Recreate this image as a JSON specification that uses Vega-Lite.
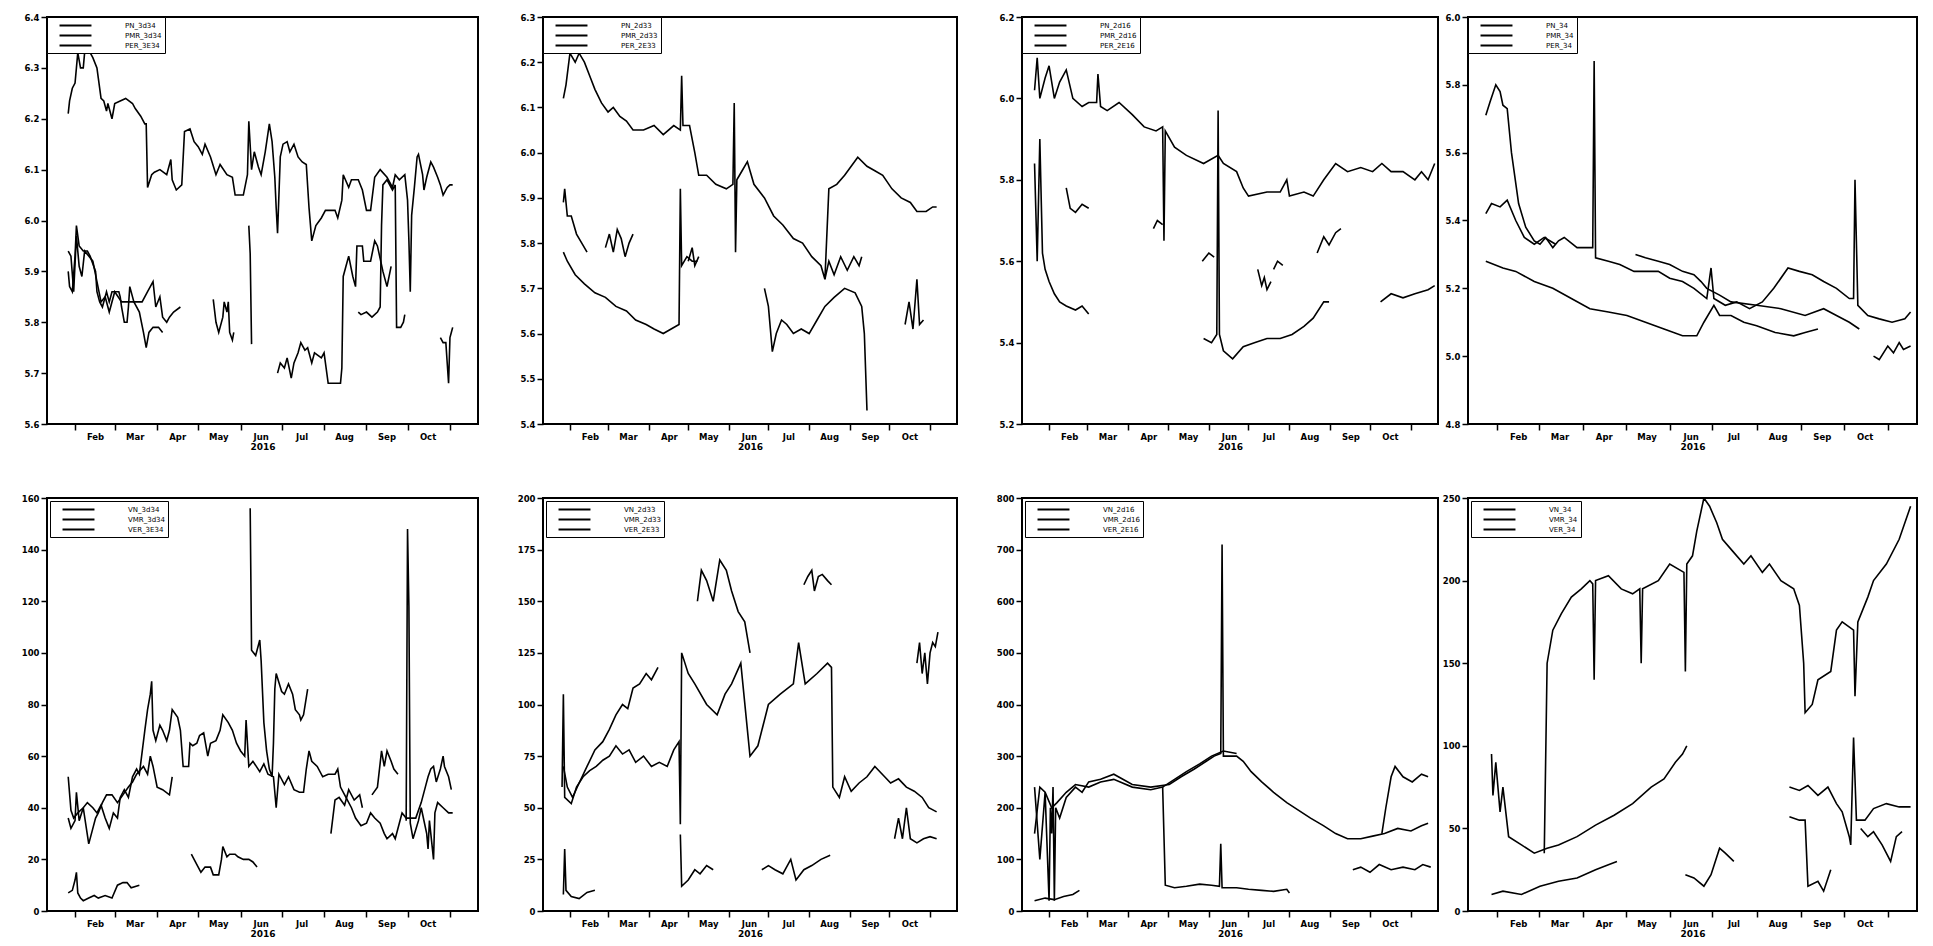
{
"$schema": "https://vega.github.io/schema/vega-lite/v6.json",
"padding": {"left": 20, "top": 12, "right": 5, "bottom": 5},
"config": {
 "font": "DejaVu Sans",
 "view": {"stroke": "black", "strokeWidth": 2},
 "axis": {"domain": false, "grid": false, "tickColor": "black", "tickWidth": 1.5, "tickSize": 6, "labelColor": "black", "labelFont": "DejaVu Sans", "labelFontSize": 8.5, "labelFontWeight": "bold", "labelPadding": 2, "labelOverlap": false, "labelFlush": false, "labelBound": false, "titleColor": "black", "titleFont": "DejaVu Sans", "titleFontSize": 9, "titleFontWeight": "bold", "titlePadding": 2},
 "legend": {"orient": "top-left", "offset": 0, "padding": 3, "strokeColor": "black", "fillColor": "white", "symbolType": "M-3.55,0H3.55", "symbolSize": 81, "symbolStrokeWidth": 2, "symbolStrokeColor": "black", "symbolFillColor": "transparent", "symbolOffset": 20, "labelOffset": 44, "labelFont": "DejaVu Sans", "labelFontSize": 7, "labelColor": "black", "rowPadding": 0}
},
"datasets": {
"p1": [
{"s":"a","g":1,"d":"2016-01-27","v":6.21},{"s":"a","g":1,"d":"2016-01-28","v":6.235},{"s":"a","g":1,"d":"2016-01-30","v":6.26},{"s":"a","g":1,"d":"2016-02-01","v":6.27},{"s":"a","g":1,"d":"2016-02-02","v":6.30},{"s":"a","g":1,"d":"2016-02-03","v":6.33},{"s":"a","g":1,"d":"2016-02-05","v":6.30},{"s":"a","g":1,"d":"2016-02-07","v":6.30},{"s":"a","g":1,"d":"2016-02-08","v":6.33},{"s":"a","g":1,"d":"2016-02-12","v":6.33},{"s":"a","g":1,"d":"2016-02-14","v":6.32},{"s":"a","g":1,"d":"2016-02-17","v":6.30},{"s":"a","g":1,"d":"2016-02-18","v":6.28},{"s":"a","g":1,"d":"2016-02-20","v":6.24},{"s":"a","g":1,"d":"2016-02-22","v":6.235},{"s":"a","g":1,"d":"2016-02-24","v":6.215},{"s":"a","g":1,"d":"2016-02-25","v":6.23},{"s":"a","g":1,"d":"2016-02-28","v":6.20},{"s":"a","g":1,"d":"2016-03-01","v":6.23},{"s":"a","g":1,"d":"2016-03-05","v":6.235},{"s":"a","g":1,"d":"2016-03-09","v":6.24},{"s":"a","g":1,"d":"2016-03-14","v":6.23},{"s":"a","g":1,"d":"2016-03-16","v":6.22},{"s":"a","g":1,"d":"2016-03-20","v":6.205},{"s":"a","g":1,"d":"2016-03-23","v":6.19},{"s":"a","g":1,"d":"2016-03-24","v":6.19},{"s":"a","g":1,"d":"2016-03-25","v":6.065},{"s":"a","g":1,"d":"2016-03-28","v":6.09},{"s":"a","g":1,"d":"2016-03-30","v":6.095},{"s":"a","g":1,"d":"2016-04-03","v":6.10},{"s":"a","g":1,"d":"2016-04-08","v":6.09},{"s":"a","g":1,"d":"2016-04-11","v":6.12},{"s":"a","g":1,"d":"2016-04-12","v":6.08},{"s":"a","g":1,"d":"2016-04-15","v":6.06},{"s":"a","g":1,"d":"2016-04-19","v":6.07},{"s":"a","g":1,"d":"2016-04-21","v":6.175},{"s":"a","g":1,"d":"2016-04-25","v":6.18},{"s":"a","g":1,"d":"2016-04-28","v":6.155},{"s":"a","g":1,"d":"2016-05-01","v":6.145},{"s":"a","g":1,"d":"2016-05-04","v":6.13},{"s":"a","g":1,"d":"2016-05-06","v":6.15},{"s":"a","g":1,"d":"2016-05-10","v":6.125},{"s":"a","g":1,"d":"2016-05-14","v":6.09},{"s":"a","g":1,"d":"2016-05-17","v":6.11},{"s":"a","g":1,"d":"2016-05-22","v":6.09},{"s":"a","g":1,"d":"2016-05-26","v":6.085},{"s":"a","g":1,"d":"2016-05-28","v":6.05},{"s":"a","g":1,"d":"2016-06-03","v":6.05},{"s":"a","g":1,"d":"2016-06-06","v":6.09},{"s":"a","g":1,"d":"2016-06-07","v":6.195},{"s":"a","g":1,"d":"2016-06-09","v":6.10},{"s":"a","g":1,"d":"2016-06-11","v":6.135},{"s":"a","g":1,"d":"2016-06-14","v":6.105},{"s":"a","g":1,"d":"2016-06-16","v":6.09},{"s":"a","g":1,"d":"2016-06-19","v":6.135},{"s":"a","g":1,"d":"2016-06-22","v":6.19},{"s":"a","g":1,"d":"2016-06-24","v":6.155},{"s":"a","g":1,"d":"2016-06-26","v":6.085},{"s":"a","g":1,"d":"2016-06-27","v":6.025},{"s":"a","g":1,"d":"2016-06-28","v":5.975},{"s":"a","g":1,"d":"2016-06-30","v":6.125},{"s":"a","g":1,"d":"2016-07-02","v":6.15},{"s":"a","g":1,"d":"2016-07-05","v":6.155},{"s":"a","g":1,"d":"2016-07-07","v":6.135},{"s":"a","g":1,"d":"2016-07-10","v":6.15},{"s":"a","g":1,"d":"2016-07-13","v":6.125},{"s":"a","g":1,"d":"2016-07-16","v":6.115},{"s":"a","g":1,"d":"2016-07-19","v":6.11},{"s":"a","g":1,"d":"2016-07-21","v":6.025},{"s":"a","g":1,"d":"2016-07-23","v":5.96},{"s":"a","g":1,"d":"2016-07-26","v":5.99},{"s":"a","g":1,"d":"2016-07-30","v":6.005},{"s":"a","g":1,"d":"2016-08-02","v":6.02},{"s":"a","g":1,"d":"2016-08-09","v":6.02},{"s":"a","g":1,"d":"2016-08-11","v":6.005},{"s":"a","g":1,"d":"2016-08-14","v":6.04},{"s":"a","g":1,"d":"2016-08-15","v":6.09},{"s":"a","g":1,"d":"2016-08-19","v":6.065},{"s":"a","g":1,"d":"2016-08-21","v":6.08},{"s":"a","g":1,"d":"2016-08-26","v":6.08},{"s":"a","g":1,"d":"2016-08-29","v":6.06},{"s":"a","g":1,"d":"2016-09-01","v":6.02},{"s":"a","g":1,"d":"2016-09-04","v":6.02},{"s":"a","g":1,"d":"2016-09-07","v":6.085},{"s":"a","g":1,"d":"2016-09-11","v":6.10},{"s":"a","g":1,"d":"2016-09-16","v":6.085},{"s":"a","g":1,"d":"2016-09-20","v":6.065},{"s":"a","g":1,"d":"2016-09-22","v":6.09},{"s":"a","g":1,"d":"2016-09-25","v":6.08},{"s":"a","g":1,"d":"2016-09-29","v":6.09},{"s":"a","g":1,"d":"2016-10-01","v":6.04},{"s":"a","g":1,"d":"2016-10-02","v":5.96},{"s":"a","g":1,"d":"2016-10-03","v":5.86},{"s":"a","g":1,"d":"2016-10-04","v":6.01},{"s":"a","g":1,"d":"2016-10-06","v":6.065},{"s":"a","g":1,"d":"2016-10-08","v":6.125},{"s":"a","g":1,"d":"2016-10-09","v":6.13},{"s":"a","g":1,"d":"2016-10-12","v":6.09},{"s":"a","g":1,"d":"2016-10-13","v":6.06},{"s":"a","g":1,"d":"2016-10-15","v":6.085},{"s":"a","g":1,"d":"2016-10-18","v":6.115},{"s":"a","g":1,"d":"2016-10-20","v":6.105},{"s":"a","g":1,"d":"2016-10-23","v":6.085},{"s":"a","g":1,"d":"2016-10-25","v":6.07},{"s":"a","g":1,"d":"2016-10-27","v":6.05},{"s":"a","g":1,"d":"2016-10-30","v":6.065},{"s":"a","g":1,"d":"2016-11-01","v":6.07},{"s":"a","g":1,"d":"2016-11-03","v":6.07},
{"s":"b","g":1,"d":"2016-01-27","v":5.90},{"s":"b","g":1,"d":"2016-01-28","v":5.87},{"s":"b","g":1,"d":"2016-01-30","v":5.86},{"s":"b","g":1,"d":"2016-02-01","v":5.93},{"s":"b","g":1,"d":"2016-02-02","v":5.99},{"s":"b","g":1,"d":"2016-02-04","v":5.95},{"s":"b","g":1,"d":"2016-02-07","v":5.94},{"s":"b","g":1,"d":"2016-02-10","v":5.94},{"s":"b","g":1,"d":"2016-02-12","v":5.93},{"s":"b","g":1,"d":"2016-02-16","v":5.90},{"s":"b","g":1,"d":"2016-02-17","v":5.86},{"s":"b","g":1,"d":"2016-02-19","v":5.84},{"s":"b","g":1,"d":"2016-02-21","v":5.83},{"s":"b","g":1,"d":"2016-02-24","v":5.86},{"s":"b","g":1,"d":"2016-02-26","v":5.84},{"s":"b","g":1,"d":"2016-02-28","v":5.86},{"s":"b","g":1,"d":"2016-03-04","v":5.86},{"s":"b","g":1,"d":"2016-03-05","v":5.85},{"s":"b","g":1,"d":"2016-03-06","v":5.83},{"s":"b","g":1,"d":"2016-03-08","v":5.80},{"s":"b","g":1,"d":"2016-03-10","v":5.80},{"s":"b","g":1,"d":"2016-03-11","v":5.83},{"s":"b","g":1,"d":"2016-03-12","v":5.87},{"s":"b","g":1,"d":"2016-03-15","v":5.84},{"s":"b","g":1,"d":"2016-03-21","v":5.84},{"s":"b","g":1,"d":"2016-03-25","v":5.86},{"s":"b","g":1,"d":"2016-03-29","v":5.88},{"s":"b","g":1,"d":"2016-03-31","v":5.83},{"s":"b","g":1,"d":"2016-04-03","v":5.85},{"s":"b","g":1,"d":"2016-04-05","v":5.81},{"s":"b","g":1,"d":"2016-04-08","v":5.80},{"s":"b","g":1,"d":"2016-04-10","v":5.81},{"s":"b","g":1,"d":"2016-04-13","v":5.82},{"s":"b","g":1,"d":"2016-04-18","v":5.83},
{"s":"b","g":2,"d":"2016-05-12","v":5.845},{"s":"b","g":2,"d":"2016-05-14","v":5.80},{"s":"b","g":2,"d":"2016-05-16","v":5.78},{"s":"b","g":2,"d":"2016-05-19","v":5.81},{"s":"b","g":2,"d":"2016-05-20","v":5.84},{"s":"b","g":2,"d":"2016-05-22","v":5.82},{"s":"b","g":2,"d":"2016-05-23","v":5.84},{"s":"b","g":2,"d":"2016-05-24","v":5.78},{"s":"b","g":2,"d":"2016-05-26","v":5.765},{"s":"b","g":2,"d":"2016-05-27","v":5.78},
{"s":"b","g":3,"d":"2016-06-28","v":5.70},{"s":"b","g":3,"d":"2016-06-30","v":5.72},{"s":"b","g":3,"d":"2016-07-03","v":5.71},{"s":"b","g":3,"d":"2016-07-05","v":5.73},{"s":"b","g":3,"d":"2016-07-08","v":5.69},{"s":"b","g":3,"d":"2016-07-10","v":5.72},{"s":"b","g":3,"d":"2016-07-13","v":5.74},{"s":"b","g":3,"d":"2016-07-15","v":5.76},{"s":"b","g":3,"d":"2016-07-18","v":5.745},{"s":"b","g":3,"d":"2016-07-20","v":5.75},{"s":"b","g":3,"d":"2016-07-23","v":5.72},{"s":"b","g":3,"d":"2016-07-25","v":5.74},{"s":"b","g":3,"d":"2016-07-30","v":5.73},{"s":"b","g":3,"d":"2016-08-01","v":5.74},{"s":"b","g":3,"d":"2016-08-04","v":5.68},{"s":"b","g":3,"d":"2016-08-13","v":5.68},{"s":"b","g":3,"d":"2016-08-14","v":5.71},{"s":"b","g":3,"d":"2016-08-15","v":5.89},{"s":"b","g":3,"d":"2016-08-17","v":5.91},{"s":"b","g":3,"d":"2016-08-19","v":5.93},{"s":"b","g":3,"d":"2016-08-22","v":5.89},{"s":"b","g":3,"d":"2016-08-24","v":5.87},{"s":"b","g":3,"d":"2016-08-25","v":5.95},{"s":"b","g":3,"d":"2016-08-29","v":5.95},{"s":"b","g":3,"d":"2016-08-30","v":5.92},{"s":"b","g":3,"d":"2016-09-04","v":5.92},{"s":"b","g":3,"d":"2016-09-07","v":5.96},{"s":"b","g":3,"d":"2016-09-09","v":5.95},{"s":"b","g":3,"d":"2016-09-13","v":5.90},{"s":"b","g":3,"d":"2016-09-16","v":5.87},{"s":"b","g":3,"d":"2016-09-19","v":5.91},
{"s":"b","g":4,"d":"2016-10-25","v":5.77},{"s":"b","g":4,"d":"2016-10-27","v":5.76},{"s":"b","g":4,"d":"2016-10-29","v":5.76},{"s":"b","g":4,"d":"2016-10-30","v":5.72},{"s":"b","g":4,"d":"2016-10-31","v":5.68},{"s":"b","g":4,"d":"2016-11-01","v":5.77},{"s":"b","g":4,"d":"2016-11-02","v":5.78},{"s":"b","g":4,"d":"2016-11-03","v":5.79},
{"s":"c","g":1,"d":"2016-01-27","v":5.94},{"s":"c","g":1,"d":"2016-01-29","v":5.93},{"s":"c","g":1,"d":"2016-01-31","v":5.86},{"s":"c","g":1,"d":"2016-02-02","v":5.97},{"s":"c","g":1,"d":"2016-02-04","v":5.91},{"s":"c","g":1,"d":"2016-02-06","v":5.89},{"s":"c","g":1,"d":"2016-02-08","v":5.94},{"s":"c","g":1,"d":"2016-02-11","v":5.93},{"s":"c","g":1,"d":"2016-02-14","v":5.92},{"s":"c","g":1,"d":"2016-02-17","v":5.88},{"s":"c","g":1,"d":"2016-02-20","v":5.84},{"s":"c","g":1,"d":"2016-02-23","v":5.85},{"s":"c","g":1,"d":"2016-02-26","v":5.82},{"s":"c","g":1,"d":"2016-03-01","v":5.86},{"s":"c","g":1,"d":"2016-03-06","v":5.84},{"s":"c","g":1,"d":"2016-03-10","v":5.84},{"s":"c","g":1,"d":"2016-03-15","v":5.84},{"s":"c","g":1,"d":"2016-03-19","v":5.82},{"s":"c","g":1,"d":"2016-03-22","v":5.78},{"s":"c","g":1,"d":"2016-03-24","v":5.75},{"s":"c","g":1,"d":"2016-03-26","v":5.78},{"s":"c","g":1,"d":"2016-03-29","v":5.79},{"s":"c","g":1,"d":"2016-04-02","v":5.79},{"s":"c","g":1,"d":"2016-04-05","v":5.78},
{"s":"c","g":2,"d":"2016-06-07","v":5.99},{"s":"c","g":2,"d":"2016-06-08","v":5.935},{"s":"c","g":2,"d":"2016-06-09","v":5.757},
{"s":"c","g":3,"d":"2016-08-26","v":5.82},{"s":"c","g":3,"d":"2016-08-28","v":5.815},{"s":"c","g":3,"d":"2016-09-01","v":5.82},{"s":"c","g":3,"d":"2016-09-05","v":5.81},{"s":"c","g":3,"d":"2016-09-09","v":5.82},{"s":"c","g":3,"d":"2016-09-11","v":5.83},{"s":"c","g":3,"d":"2016-09-12","v":5.99},{"s":"c","g":3,"d":"2016-09-13","v":6.07},{"s":"c","g":3,"d":"2016-09-16","v":6.08},{"s":"c","g":3,"d":"2016-09-20","v":6.06},{"s":"c","g":3,"d":"2016-09-22","v":6.07},{"s":"c","g":3,"d":"2016-09-23","v":5.79},{"s":"c","g":3,"d":"2016-09-26","v":5.79},{"s":"c","g":3,"d":"2016-09-28","v":5.80},{"s":"c","g":3,"d":"2016-09-29","v":5.815}
],
"p2": [
{"s":"a","g":1,"d":"2016-01-27","v":6.12},{"s":"a","g":1,"d":"2016-01-29","v":6.15},{"s":"a","g":1,"d":"2016-02-01","v":6.22},{"s":"a","g":1,"d":"2016-02-05","v":6.20},{"s":"a","g":1,"d":"2016-02-08","v":6.22},{"s":"a","g":1,"d":"2016-02-12","v":6.20},{"s":"a","g":1,"d":"2016-02-16","v":6.17},{"s":"a","g":1,"d":"2016-02-20","v":6.14},{"s":"a","g":1,"d":"2016-02-25","v":6.11},{"s":"a","g":1,"d":"2016-03-01","v":6.09},{"s":"a","g":1,"d":"2016-03-05","v":6.10},{"s":"a","g":1,"d":"2016-03-10","v":6.08},{"s":"a","g":1,"d":"2016-03-15","v":6.07},{"s":"a","g":1,"d":"2016-03-20","v":6.05},{"s":"a","g":1,"d":"2016-03-28","v":6.05},{"s":"a","g":1,"d":"2016-04-05","v":6.06},{"s":"a","g":1,"d":"2016-04-12","v":6.04},{"s":"a","g":1,"d":"2016-04-20","v":6.06},{"s":"a","g":1,"d":"2016-04-25","v":6.05},{"s":"a","g":1,"d":"2016-04-26","v":6.17},{"s":"a","g":1,"d":"2016-04-27","v":6.06},{"s":"a","g":1,"d":"2016-05-02","v":6.06},{"s":"a","g":1,"d":"2016-05-06","v":6.00},{"s":"a","g":1,"d":"2016-05-09","v":5.95},{"s":"a","g":1,"d":"2016-05-15","v":5.95},{"s":"a","g":1,"d":"2016-05-22","v":5.93},{"s":"a","g":1,"d":"2016-05-30","v":5.92},{"s":"a","g":1,"d":"2016-06-04","v":5.93},{"s":"a","g":1,"d":"2016-06-05","v":6.11},{"s":"a","g":1,"d":"2016-06-06","v":5.78},{"s":"a","g":1,"d":"2016-06-07","v":5.94},{"s":"a","g":1,"d":"2016-06-11","v":5.96},{"s":"a","g":1,"d":"2016-06-15","v":5.98},{"s":"a","g":1,"d":"2016-06-20","v":5.93},{"s":"a","g":1,"d":"2016-06-28","v":5.90},{"s":"a","g":1,"d":"2016-07-05","v":5.86},{"s":"a","g":1,"d":"2016-07-12","v":5.84},{"s":"a","g":1,"d":"2016-07-20","v":5.81},{"s":"a","g":1,"d":"2016-07-27","v":5.80},{"s":"a","g":1,"d":"2016-08-03","v":5.77},{"s":"a","g":1,"d":"2016-08-10","v":5.75},{"s":"a","g":1,"d":"2016-08-13","v":5.72},{"s":"a","g":1,"d":"2016-08-16","v":5.92},{"s":"a","g":1,"d":"2016-08-22","v":5.93},{"s":"a","g":1,"d":"2016-08-28","v":5.95},{"s":"a","g":1,"d":"2016-09-02","v":5.97},{"s":"a","g":1,"d":"2016-09-07","v":5.99},{"s":"a","g":1,"d":"2016-09-14","v":5.97},{"s":"a","g":1,"d":"2016-09-20","v":5.96},{"s":"a","g":1,"d":"2016-09-26","v":5.95},{"s":"a","g":1,"d":"2016-10-03","v":5.92},{"s":"a","g":1,"d":"2016-10-10","v":5.90},{"s":"a","g":1,"d":"2016-10-17","v":5.89},{"s":"a","g":1,"d":"2016-10-22","v":5.87},{"s":"a","g":1,"d":"2016-10-29","v":5.87},{"s":"a","g":1,"d":"2016-11-03","v":5.88},{"s":"a","g":1,"d":"2016-11-06","v":5.88},
{"s":"b","g":1,"d":"2016-01-27","v":5.78},{"s":"b","g":1,"d":"2016-01-30","v":5.76},{"s":"b","g":1,"d":"2016-02-05","v":5.73},{"s":"b","g":1,"d":"2016-02-12","v":5.71},{"s":"b","g":1,"d":"2016-02-20","v":5.69},{"s":"b","g":1,"d":"2016-02-28","v":5.68},{"s":"b","g":1,"d":"2016-03-07","v":5.66},{"s":"b","g":1,"d":"2016-03-15","v":5.65},{"s":"b","g":1,"d":"2016-03-22","v":5.63},{"s":"b","g":1,"d":"2016-03-30","v":5.62},{"s":"b","g":1,"d":"2016-04-05","v":5.61},{"s":"b","g":1,"d":"2016-04-12","v":5.60},{"s":"b","g":1,"d":"2016-04-18","v":5.61},{"s":"b","g":1,"d":"2016-04-24","v":5.62},{"s":"b","g":1,"d":"2016-04-25","v":5.92},{"s":"b","g":1,"d":"2016-04-26","v":5.75},{"s":"b","g":1,"d":"2016-04-30","v":5.77},{"s":"b","g":1,"d":"2016-05-04","v":5.76},{"s":"b","g":1,"d":"2016-05-08","v":5.76},
{"s":"b","g":2,"d":"2016-06-28","v":5.70},{"s":"b","g":2,"d":"2016-07-01","v":5.66},{"s":"b","g":2,"d":"2016-07-04","v":5.56},{"s":"b","g":2,"d":"2016-07-07","v":5.60},{"s":"b","g":2,"d":"2016-07-11","v":5.63},{"s":"b","g":2,"d":"2016-07-15","v":5.62},{"s":"b","g":2,"d":"2016-07-20","v":5.60},{"s":"b","g":2,"d":"2016-07-26","v":5.61},{"s":"b","g":2,"d":"2016-08-01","v":5.60},{"s":"b","g":2,"d":"2016-08-07","v":5.63},{"s":"b","g":2,"d":"2016-08-13","v":5.66},{"s":"b","g":2,"d":"2016-08-20","v":5.68},{"s":"b","g":2,"d":"2016-08-28","v":5.70},{"s":"b","g":2,"d":"2016-09-05","v":5.69},{"s":"b","g":2,"d":"2016-09-10","v":5.66},{"s":"b","g":2,"d":"2016-09-12","v":5.60},{"s":"b","g":2,"d":"2016-09-14","v":5.43},
{"s":"c","g":1,"d":"2016-01-27","v":5.89},{"s":"c","g":1,"d":"2016-01-28","v":5.92},{"s":"c","g":1,"d":"2016-01-30","v":5.86},{"s":"c","g":1,"d":"2016-02-02","v":5.86},{"s":"c","g":1,"d":"2016-02-06","v":5.82},{"s":"c","g":1,"d":"2016-02-10","v":5.80},{"s":"c","g":1,"d":"2016-02-14","v":5.78},
{"s":"c","g":2,"d":"2016-02-28","v":5.79},{"s":"c","g":2,"d":"2016-03-02","v":5.82},{"s":"c","g":2,"d":"2016-03-05","v":5.78},{"s":"c","g":2,"d":"2016-03-08","v":5.83},{"s":"c","g":2,"d":"2016-03-11","v":5.81},{"s":"c","g":2,"d":"2016-03-14","v":5.77},{"s":"c","g":2,"d":"2016-03-17","v":5.80},{"s":"c","g":2,"d":"2016-03-20","v":5.82},
{"s":"c","g":3,"d":"2016-05-01","v":5.76},{"s":"c","g":3,"d":"2016-05-04","v":5.79},{"s":"c","g":3,"d":"2016-05-06","v":5.75},{"s":"c","g":3,"d":"2016-05-09","v":5.77},
{"s":"c","g":4,"d":"2016-08-13","v":5.72},{"s":"c","g":4,"d":"2016-08-16","v":5.76},{"s":"c","g":4,"d":"2016-08-20","v":5.73},{"s":"c","g":4,"d":"2016-08-25","v":5.77},{"s":"c","g":4,"d":"2016-08-30","v":5.74},{"s":"c","g":4,"d":"2016-09-04","v":5.77},{"s":"c","g":4,"d":"2016-09-08","v":5.75},{"s":"c","g":4,"d":"2016-09-10","v":5.77},
{"s":"c","g":5,"d":"2016-10-13","v":5.62},{"s":"c","g":5,"d":"2016-10-16","v":5.67},{"s":"c","g":5,"d":"2016-10-19","v":5.61},{"s":"c","g":5,"d":"2016-10-22","v":5.72},{"s":"c","g":5,"d":"2016-10-24","v":5.62},{"s":"c","g":5,"d":"2016-10-27","v":5.63}
],
"p3": [
{"s":"a","g":1,"d":"2016-01-21","v":6.02},{"s":"a","g":1,"d":"2016-01-23","v":6.10},{"s":"a","g":1,"d":"2016-01-25","v":6.00},{"s":"a","g":1,"d":"2016-01-29","v":6.05},{"s":"a","g":1,"d":"2016-02-01","v":6.08},{"s":"a","g":1,"d":"2016-02-05","v":6.00},{"s":"a","g":1,"d":"2016-02-09","v":6.04},{"s":"a","g":1,"d":"2016-02-14","v":6.07},{"s":"a","g":1,"d":"2016-02-19","v":6.00},{"s":"a","g":1,"d":"2016-02-26","v":5.98},{"s":"a","g":1,"d":"2016-03-02","v":5.99},{"s":"a","g":1,"d":"2016-03-08","v":5.99},{"s":"a","g":1,"d":"2016-03-09","v":6.06},{"s":"a","g":1,"d":"2016-03-11","v":5.98},{"s":"a","g":1,"d":"2016-03-16","v":5.97},{"s":"a","g":1,"d":"2016-03-25","v":5.99},{"s":"a","g":1,"d":"2016-04-04","v":5.96},{"s":"a","g":1,"d":"2016-04-13","v":5.93},{"s":"a","g":1,"d":"2016-04-22","v":5.92},{"s":"a","g":1,"d":"2016-04-27","v":5.93},{"s":"a","g":1,"d":"2016-04-28","v":5.65},{"s":"a","g":1,"d":"2016-04-29","v":5.92},{"s":"a","g":1,"d":"2016-05-06","v":5.88},{"s":"a","g":1,"d":"2016-05-15","v":5.86},{"s":"a","g":1,"d":"2016-05-28","v":5.84},{"s":"a","g":1,"d":"2016-06-08","v":5.86},{"s":"a","g":1,"d":"2016-06-12","v":5.84},{"s":"a","g":1,"d":"2016-06-22","v":5.82},{"s":"a","g":1,"d":"2016-06-27","v":5.78},{"s":"a","g":1,"d":"2016-07-01","v":5.76},{"s":"a","g":1,"d":"2016-07-15","v":5.77},{"s":"a","g":1,"d":"2016-07-25","v":5.77},{"s":"a","g":1,"d":"2016-07-30","v":5.80},{"s":"a","g":1,"d":"2016-08-01","v":5.76},{"s":"a","g":1,"d":"2016-08-12","v":5.77},{"s":"a","g":1,"d":"2016-08-19","v":5.76},{"s":"a","g":1,"d":"2016-08-27","v":5.80},{"s":"a","g":1,"d":"2016-09-05","v":5.84},{"s":"a","g":1,"d":"2016-09-14","v":5.82},{"s":"a","g":1,"d":"2016-09-24","v":5.83},{"s":"a","g":1,"d":"2016-10-03","v":5.82},{"s":"a","g":1,"d":"2016-10-10","v":5.84},{"s":"a","g":1,"d":"2016-10-17","v":5.82},{"s":"a","g":1,"d":"2016-10-26","v":5.82},{"s":"a","g":1,"d":"2016-11-04","v":5.80},{"s":"a","g":1,"d":"2016-11-09","v":5.82},{"s":"a","g":1,"d":"2016-11-14","v":5.80},{"s":"a","g":1,"d":"2016-11-19","v":5.84},
{"s":"b","g":1,"d":"2016-01-21","v":5.84},{"s":"b","g":1,"d":"2016-01-23","v":5.60},{"s":"b","g":1,"d":"2016-01-25","v":5.90},{"s":"b","g":1,"d":"2016-01-27","v":5.62},{"s":"b","g":1,"d":"2016-01-29","v":5.58},{"s":"b","g":1,"d":"2016-02-01","v":5.55},{"s":"b","g":1,"d":"2016-02-05","v":5.52},{"s":"b","g":1,"d":"2016-02-09","v":5.50},{"s":"b","g":1,"d":"2016-02-14","v":5.49},{"s":"b","g":1,"d":"2016-02-21","v":5.48},{"s":"b","g":1,"d":"2016-02-26","v":5.49},{"s":"b","g":1,"d":"2016-03-02","v":5.47},
{"s":"b","g":2,"d":"2016-05-28","v":5.41},{"s":"b","g":2,"d":"2016-06-03","v":5.40},{"s":"b","g":2,"d":"2016-06-07","v":5.42},{"s":"b","g":2,"d":"2016-06-08","v":5.97},{"s":"b","g":2,"d":"2016-06-09","v":5.42},{"s":"b","g":2,"d":"2016-06-12","v":5.38},{"s":"b","g":2,"d":"2016-06-19","v":5.36},{"s":"b","g":2,"d":"2016-06-27","v":5.39},{"s":"b","g":2,"d":"2016-07-06","v":5.40},{"s":"b","g":2,"d":"2016-07-15","v":5.41},{"s":"b","g":2,"d":"2016-07-25","v":5.41},{"s":"b","g":2,"d":"2016-08-03","v":5.42},{"s":"b","g":2,"d":"2016-08-12","v":5.44},{"s":"b","g":2,"d":"2016-08-19","v":5.46},{"s":"b","g":2,"d":"2016-08-27","v":5.50},{"s":"b","g":2,"d":"2016-08-31","v":5.50},
{"s":"b","g":3,"d":"2016-10-09","v":5.50},{"s":"b","g":3,"d":"2016-10-17","v":5.52},{"s":"b","g":3,"d":"2016-10-26","v":5.51},{"s":"b","g":3,"d":"2016-11-04","v":5.52},{"s":"b","g":3,"d":"2016-11-14","v":5.53},{"s":"b","g":3,"d":"2016-11-19","v":5.54},
{"s":"c","g":1,"d":"2016-02-14","v":5.78},{"s":"c","g":1,"d":"2016-02-17","v":5.73},{"s":"c","g":1,"d":"2016-02-21","v":5.72},{"s":"c","g":1,"d":"2016-02-26","v":5.74},{"s":"c","g":1,"d":"2016-03-02","v":5.73},
{"s":"c","g":2,"d":"2016-04-20","v":5.68},{"s":"c","g":2,"d":"2016-04-23","v":5.70},{"s":"c","g":2,"d":"2016-04-27","v":5.69},
{"s":"c","g":3,"d":"2016-05-27","v":5.60},{"s":"c","g":3,"d":"2016-06-01","v":5.62},{"s":"c","g":3,"d":"2016-06-05","v":5.61},
{"s":"c","g":4,"d":"2016-07-08","v":5.58},{"s":"c","g":4,"d":"2016-07-11","v":5.54},{"s":"c","g":4,"d":"2016-07-13","v":5.56},{"s":"c","g":4,"d":"2016-07-15","v":5.53},{"s":"c","g":4,"d":"2016-07-18","v":5.55},
{"s":"c","g":5,"d":"2016-07-20","v":5.58},{"s":"c","g":5,"d":"2016-07-23","v":5.60},{"s":"c","g":5,"d":"2016-07-27","v":5.59},
{"s":"c","g":6,"d":"2016-08-22","v":5.62},{"s":"c","g":6,"d":"2016-08-27","v":5.66},{"s":"c","g":6,"d":"2016-08-31","v":5.64},{"s":"c","g":6,"d":"2016-09-05","v":5.67},{"s":"c","g":6,"d":"2016-09-09","v":5.68}
],
"p4": [
{"s":"a","g":1,"d":"2016-01-24","v":5.71},{"s":"a","g":1,"d":"2016-01-27","v":5.75},{"s":"a","g":1,"d":"2016-01-31","v":5.80},{"s":"a","g":1,"d":"2016-02-03","v":5.78},{"s":"a","g":1,"d":"2016-02-05","v":5.74},{"s":"a","g":1,"d":"2016-02-08","v":5.73},{"s":"a","g":1,"d":"2016-02-11","v":5.60},{"s":"a","g":1,"d":"2016-02-16","v":5.45},{"s":"a","g":1,"d":"2016-02-21","v":5.38},{"s":"a","g":1,"d":"2016-02-27","v":5.34},{"s":"a","g":1,"d":"2016-03-02","v":5.33},{"s":"a","g":1,"d":"2016-03-06","v":5.35},{"s":"a","g":1,"d":"2016-03-11","v":5.32},{"s":"a","g":1,"d":"2016-03-15","v":5.34},{"s":"a","g":1,"d":"2016-03-19","v":5.35},{"s":"a","g":1,"d":"2016-03-28","v":5.32},{"s":"a","g":1,"d":"2016-04-08","v":5.32},{"s":"a","g":1,"d":"2016-04-09","v":5.87},{"s":"a","g":1,"d":"2016-04-10","v":5.29},{"s":"a","g":1,"d":"2016-04-19","v":5.28},{"s":"a","g":1,"d":"2016-04-27","v":5.27},{"s":"a","g":1,"d":"2016-05-07","v":5.25},{"s":"a","g":1,"d":"2016-05-24","v":5.25},{"s":"a","g":1,"d":"2016-06-01","v":5.23},{"s":"a","g":1,"d":"2016-06-10","v":5.22},{"s":"a","g":1,"d":"2016-06-18","v":5.20},{"s":"a","g":1,"d":"2016-06-27","v":5.17},{"s":"a","g":1,"d":"2016-06-30","v":5.26},{"s":"a","g":1,"d":"2016-07-02","v":5.17},{"s":"a","g":1,"d":"2016-07-10","v":5.15},{"s":"a","g":1,"d":"2016-07-18","v":5.16},{"s":"a","g":1,"d":"2016-07-27","v":5.14},{"s":"a","g":1,"d":"2016-08-05","v":5.16},{"s":"a","g":1,"d":"2016-08-13","v":5.20},{"s":"a","g":1,"d":"2016-08-23","v":5.26},{"s":"a","g":1,"d":"2016-08-31","v":5.25},{"s":"a","g":1,"d":"2016-09-09","v":5.24},{"s":"a","g":1,"d":"2016-09-17","v":5.22},{"s":"a","g":1,"d":"2016-09-26","v":5.20},{"s":"a","g":1,"d":"2016-10-05","v":5.17},{"s":"a","g":1,"d":"2016-10-08","v":5.17},{"s":"a","g":1,"d":"2016-10-09","v":5.52},{"s":"a","g":1,"d":"2016-10-11","v":5.15},{"s":"a","g":1,"d":"2016-10-18","v":5.12},{"s":"a","g":1,"d":"2016-10-26","v":5.11},{"s":"a","g":1,"d":"2016-11-04","v":5.10},{"s":"a","g":1,"d":"2016-11-13","v":5.11},{"s":"a","g":1,"d":"2016-11-17","v":5.13},
{"s":"b","g":1,"d":"2016-01-24","v":5.42},{"s":"b","g":1,"d":"2016-01-28","v":5.45},{"s":"b","g":1,"d":"2016-02-03","v":5.44},{"s":"b","g":1,"d":"2016-02-08","v":5.46},{"s":"b","g":1,"d":"2016-02-14","v":5.40},{"s":"b","g":1,"d":"2016-02-20","v":5.35},{"s":"b","g":1,"d":"2016-02-27","v":5.33},{"s":"b","g":1,"d":"2016-03-05","v":5.35},{"s":"b","g":1,"d":"2016-03-13","v":5.33},
{"s":"b","g":2,"d":"2016-05-08","v":5.30},{"s":"b","g":2,"d":"2016-05-15","v":5.29},{"s":"b","g":2,"d":"2016-05-24","v":5.28},{"s":"b","g":2,"d":"2016-06-01","v":5.27},{"s":"b","g":2,"d":"2016-06-10","v":5.25},{"s":"b","g":2,"d":"2016-06-18","v":5.24},{"s":"b","g":2,"d":"2016-06-23","v":5.22},{"s":"b","g":2,"d":"2016-06-27","v":5.20},{"s":"b","g":2,"d":"2016-07-06","v":5.18},{"s":"b","g":2,"d":"2016-07-14","v":5.16},{"s":"b","g":2,"d":"2016-08-01","v":5.15},{"s":"b","g":2,"d":"2016-08-18","v":5.14},{"s":"b","g":2,"d":"2016-09-04","v":5.12},{"s":"b","g":2,"d":"2016-09-17","v":5.14},{"s":"b","g":2,"d":"2016-09-26","v":5.12},{"s":"b","g":2,"d":"2016-10-05","v":5.10},{"s":"b","g":2,"d":"2016-10-12","v":5.08},
{"s":"c","g":1,"d":"2016-01-24","v":5.28},{"s":"c","g":1,"d":"2016-02-05","v":5.26},{"s":"c","g":1,"d":"2016-02-14","v":5.25},{"s":"c","g":1,"d":"2016-02-27","v":5.22},{"s":"c","g":1,"d":"2016-03-11","v":5.20},{"s":"c","g":1,"d":"2016-03-24","v":5.17},{"s":"c","g":1,"d":"2016-04-06","v":5.14},{"s":"c","g":1,"d":"2016-04-19","v":5.13},{"s":"c","g":1,"d":"2016-05-02","v":5.12},{"s":"c","g":1,"d":"2016-05-15","v":5.10},{"s":"c","g":1,"d":"2016-05-28","v":5.08},{"s":"c","g":1,"d":"2016-06-10","v":5.06},{"s":"c","g":1,"d":"2016-06-20","v":5.06},{"s":"c","g":1,"d":"2016-06-25","v":5.10},{"s":"c","g":1,"d":"2016-07-02","v":5.15},{"s":"c","g":1,"d":"2016-07-06","v":5.12},{"s":"c","g":1,"d":"2016-07-14","v":5.12},{"s":"c","g":1,"d":"2016-07-23","v":5.10},{"s":"c","g":1,"d":"2016-08-01","v":5.09},{"s":"c","g":1,"d":"2016-08-14","v":5.07},{"s":"c","g":1,"d":"2016-08-27","v":5.06},{"s":"c","g":1,"d":"2016-09-04","v":5.07},{"s":"c","g":1,"d":"2016-09-13","v":5.08},
{"s":"c","g":2,"d":"2016-10-22","v":5.00},{"s":"c","g":2,"d":"2016-10-26","v":4.99},{"s":"c","g":2,"d":"2016-11-01","v":5.03},{"s":"c","g":2,"d":"2016-11-05","v":5.01},{"s":"c","g":2,"d":"2016-11-09","v":5.04},{"s":"c","g":2,"d":"2016-11-12","v":5.02},{"s":"c","g":2,"d":"2016-11-17","v":5.03}
],
"p5": [
{"s":"a","g":1,"d":"2016-01-27","v":52},{"s":"a","g":1,"d":"2016-01-29","v":39},{"s":"a","g":1,"d":"2016-01-31","v":36},{"s":"a","g":1,"d":"2016-02-03","v":38},{"s":"a","g":1,"d":"2016-02-07","v":40},{"s":"a","g":1,"d":"2016-02-10","v":42},{"s":"a","g":1,"d":"2016-02-14","v":40},{"s":"a","g":1,"d":"2016-02-17","v":38},{"s":"a","g":1,"d":"2016-02-20","v":41},{"s":"a","g":1,"d":"2016-02-23","v":36},{"s":"a","g":1,"d":"2016-02-26","v":32},{"s":"a","g":1,"d":"2016-02-29","v":38},{"s":"a","g":1,"d":"2016-03-03","v":36},{"s":"a","g":1,"d":"2016-03-05","v":44},{"s":"a","g":1,"d":"2016-03-08","v":47},{"s":"a","g":1,"d":"2016-03-11","v":44},{"s":"a","g":1,"d":"2016-03-14","v":52},{"s":"a","g":1,"d":"2016-03-17","v":55},{"s":"a","g":1,"d":"2016-03-19","v":53},{"s":"a","g":1,"d":"2016-03-23","v":70},{"s":"a","g":1,"d":"2016-03-25","v":78},{"s":"a","g":1,"d":"2016-03-27","v":84},{"s":"a","g":1,"d":"2016-03-28","v":89},{"s":"a","g":1,"d":"2016-03-29","v":70},{"s":"a","g":1,"d":"2016-03-31","v":66},{"s":"a","g":1,"d":"2016-04-03","v":72},{"s":"a","g":1,"d":"2016-04-05","v":70},{"s":"a","g":1,"d":"2016-04-08","v":66},{"s":"a","g":1,"d":"2016-04-10","v":70},{"s":"a","g":1,"d":"2016-04-12","v":78},{"s":"a","g":1,"d":"2016-04-16","v":75},{"s":"a","g":1,"d":"2016-04-18","v":70},{"s":"a","g":1,"d":"2016-04-20","v":56},{"s":"a","g":1,"d":"2016-04-24","v":56},{"s":"a","g":1,"d":"2016-04-25","v":65},{"s":"a","g":1,"d":"2016-04-27","v":64},{"s":"a","g":1,"d":"2016-04-30","v":65},{"s":"a","g":1,"d":"2016-05-02","v":68},{"s":"a","g":1,"d":"2016-05-05","v":69},{"s":"a","g":1,"d":"2016-05-08","v":60},{"s":"a","g":1,"d":"2016-05-10","v":65},{"s":"a","g":1,"d":"2016-05-14","v":66},{"s":"a","g":1,"d":"2016-05-17","v":70},{"s":"a","g":1,"d":"2016-05-19","v":76},{"s":"a","g":1,"d":"2016-05-23","v":73},{"s":"a","g":1,"d":"2016-05-26","v":70},{"s":"a","g":1,"d":"2016-05-29","v":65},{"s":"a","g":1,"d":"2016-06-01","v":62},{"s":"a","g":1,"d":"2016-06-04","v":60},{"s":"a","g":1,"d":"2016-06-05","v":74},{"s":"a","g":1,"d":"2016-06-07","v":56},{"s":"a","g":1,"d":"2016-06-10","v":58},{"s":"a","g":1,"d":"2016-06-15","v":54},{"s":"a","g":1,"d":"2016-06-18","v":57},{"s":"a","g":1,"d":"2016-06-21","v":53},{"s":"a","g":1,"d":"2016-06-25","v":52},{"s":"a","g":1,"d":"2016-06-27","v":40},{"s":"a","g":1,"d":"2016-06-29","v":53},{"s":"a","g":1,"d":"2016-07-03","v":49},{"s":"a","g":1,"d":"2016-07-06","v":52},{"s":"a","g":1,"d":"2016-07-10","v":47},{"s":"a","g":1,"d":"2016-07-14","v":46},{"s":"a","g":1,"d":"2016-07-17","v":46},{"s":"a","g":1,"d":"2016-07-19","v":55},{"s":"a","g":1,"d":"2016-07-21","v":62},{"s":"a","g":1,"d":"2016-07-23","v":58},{"s":"a","g":1,"d":"2016-07-27","v":56},{"s":"a","g":1,"d":"2016-07-31","v":52},{"s":"a","g":1,"d":"2016-08-04","v":53},{"s":"a","g":1,"d":"2016-08-09","v":53},{"s":"a","g":1,"d":"2016-08-11","v":55},{"s":"a","g":1,"d":"2016-08-13","v":48},{"s":"a","g":1,"d":"2016-08-17","v":44},{"s":"a","g":1,"d":"2016-08-21","v":40},{"s":"a","g":1,"d":"2016-08-24","v":36},{"s":"a","g":1,"d":"2016-08-28","v":33},{"s":"a","g":1,"d":"2016-09-01","v":34},{"s":"a","g":1,"d":"2016-09-04","v":38},{"s":"a","g":1,"d":"2016-09-07","v":36},{"s":"a","g":1,"d":"2016-09-11","v":34},{"s":"a","g":1,"d":"2016-09-14","v":30},{"s":"a","g":1,"d":"2016-09-16","v":28},{"s":"a","g":1,"d":"2016-09-20","v":30},{"s":"a","g":1,"d":"2016-09-22","v":28},{"s":"a","g":1,"d":"2016-09-25","v":34},{"s":"a","g":1,"d":"2016-09-27","v":38},{"s":"a","g":1,"d":"2016-09-30","v":36},{"s":"a","g":1,"d":"2016-10-04","v":36},{"s":"a","g":1,"d":"2016-10-07","v":36},{"s":"a","g":1,"d":"2016-10-11","v":42},{"s":"a","g":1,"d":"2016-10-14","v":48},{"s":"a","g":1,"d":"2016-10-16","v":52},{"s":"a","g":1,"d":"2016-10-18","v":55},{"s":"a","g":1,"d":"2016-10-20","v":56},{"s":"a","g":1,"d":"2016-10-22","v":50},{"s":"a","g":1,"d":"2016-10-25","v":55},{"s":"a","g":1,"d":"2016-10-27","v":60},{"s":"a","g":1,"d":"2016-10-28","v":56},{"s":"a","g":1,"d":"2016-10-31","v":52},{"s":"a","g":1,"d":"2016-11-02","v":47},
{"s":"b","g":1,"d":"2016-01-27","v":36},{"s":"b","g":1,"d":"2016-01-29","v":32},{"s":"b","g":1,"d":"2016-02-01","v":35},{"s":"b","g":1,"d":"2016-02-02","v":46},{"s":"b","g":1,"d":"2016-02-04","v":35},{"s":"b","g":1,"d":"2016-02-07","v":40},{"s":"b","g":1,"d":"2016-02-09","v":33},{"s":"b","g":1,"d":"2016-02-11","v":26},{"s":"b","g":1,"d":"2016-02-14","v":32},{"s":"b","g":1,"d":"2016-02-16","v":36},{"s":"b","g":1,"d":"2016-02-18","v":38},{"s":"b","g":1,"d":"2016-02-21","v":42},{"s":"b","g":1,"d":"2016-02-24","v":45},{"s":"b","g":1,"d":"2016-02-28","v":45},{"s":"b","g":1,"d":"2016-03-03","v":42},{"s":"b","g":1,"d":"2016-03-07","v":45},{"s":"b","g":1,"d":"2016-03-11","v":48},{"s":"b","g":1,"d":"2016-03-14","v":50},{"s":"b","g":1,"d":"2016-03-17","v":53},{"s":"b","g":1,"d":"2016-03-22","v":56},{"s":"b","g":1,"d":"2016-03-25","v":53},{"s":"b","g":1,"d":"2016-03-27","v":60},{"s":"b","g":1,"d":"2016-03-29","v":56},{"s":"b","g":1,"d":"2016-04-01","v":48},{"s":"b","g":1,"d":"2016-04-05","v":47},{"s":"b","g":1,"d":"2016-04-10","v":45},{"s":"b","g":1,"d":"2016-04-12","v":52},
{"s":"b","g":2,"d":"2016-06-08","v":156},{"s":"b","g":2,"d":"2016-06-09","v":101},{"s":"b","g":2,"d":"2016-06-12","v":99},{"s":"b","g":2,"d":"2016-06-15","v":105},{"s":"b","g":2,"d":"2016-06-16","v":97},{"s":"b","g":2,"d":"2016-06-18","v":73},{"s":"b","g":2,"d":"2016-06-20","v":62},{"s":"b","g":2,"d":"2016-06-22","v":55},{"s":"b","g":2,"d":"2016-06-24","v":52},{"s":"b","g":2,"d":"2016-06-25","v":65},{"s":"b","g":2,"d":"2016-06-26","v":86},{"s":"b","g":2,"d":"2016-06-27","v":92},{"s":"b","g":2,"d":"2016-07-01","v":85},{"s":"b","g":2,"d":"2016-07-03","v":84},{"s":"b","g":2,"d":"2016-07-06","v":88},{"s":"b","g":2,"d":"2016-07-09","v":84},{"s":"b","g":2,"d":"2016-07-11","v":78},{"s":"b","g":2,"d":"2016-07-14","v":76},{"s":"b","g":2,"d":"2016-07-15","v":74},{"s":"b","g":2,"d":"2016-07-17","v":76},{"s":"b","g":2,"d":"2016-07-20","v":86},
{"s":"b","g":3,"d":"2016-08-06","v":30},{"s":"b","g":3,"d":"2016-08-09","v":43},{"s":"b","g":3,"d":"2016-08-12","v":44},{"s":"b","g":3,"d":"2016-08-16","v":41},{"s":"b","g":3,"d":"2016-08-19","v":47},{"s":"b","g":3,"d":"2016-08-23","v":43},{"s":"b","g":3,"d":"2016-08-27","v":45},{"s":"b","g":3,"d":"2016-08-29","v":40},
{"s":"b","g":4,"d":"2016-09-05","v":45},{"s":"b","g":4,"d":"2016-09-09","v":48},{"s":"b","g":4,"d":"2016-09-12","v":62},{"s":"b","g":4,"d":"2016-09-14","v":56},{"s":"b","g":4,"d":"2016-09-16","v":62},{"s":"b","g":4,"d":"2016-09-19","v":58},{"s":"b","g":4,"d":"2016-09-21","v":55},{"s":"b","g":4,"d":"2016-09-24","v":53},
{"s":"b","g":5,"d":"2016-09-30","v":35},{"s":"b","g":5,"d":"2016-10-01","v":148},{"s":"b","g":5,"d":"2016-10-02","v":118},{"s":"b","g":5,"d":"2016-10-03","v":34},{"s":"b","g":5,"d":"2016-10-05","v":28},{"s":"b","g":5,"d":"2016-10-09","v":35},{"s":"b","g":5,"d":"2016-10-11","v":40},{"s":"b","g":5,"d":"2016-10-15","v":30},{"s":"b","g":5,"d":"2016-10-16","v":24},{"s":"b","g":5,"d":"2016-10-17","v":35},{"s":"b","g":5,"d":"2016-10-20","v":20},{"s":"b","g":5,"d":"2016-10-21","v":38},{"s":"b","g":5,"d":"2016-10-23","v":42},{"s":"b","g":5,"d":"2016-10-27","v":40},{"s":"b","g":5,"d":"2016-10-31","v":38},{"s":"b","g":5,"d":"2016-11-03","v":38},
{"s":"c","g":1,"d":"2016-01-27","v":7},{"s":"c","g":1,"d":"2016-01-30","v":8},{"s":"c","g":1,"d":"2016-02-01","v":12},{"s":"c","g":1,"d":"2016-02-02","v":15},{"s":"c","g":1,"d":"2016-02-03","v":7},{"s":"c","g":1,"d":"2016-02-05","v":5},{"s":"c","g":1,"d":"2016-02-07","v":4},{"s":"c","g":1,"d":"2016-02-11","v":5},{"s":"c","g":1,"d":"2016-02-15","v":6},{"s":"c","g":1,"d":"2016-02-18","v":5},{"s":"c","g":1,"d":"2016-02-23","v":6},{"s":"c","g":1,"d":"2016-02-28","v":5},{"s":"c","g":1,"d":"2016-03-03","v":10},{"s":"c","g":1,"d":"2016-03-07","v":11},{"s":"c","g":1,"d":"2016-03-10","v":11},{"s":"c","g":1,"d":"2016-03-13","v":9},{"s":"c","g":1,"d":"2016-03-19","v":10},
{"s":"c","g":2,"d":"2016-04-26","v":22},{"s":"c","g":2,"d":"2016-04-28","v":20},{"s":"c","g":2,"d":"2016-05-01","v":17},{"s":"c","g":2,"d":"2016-05-03","v":15},{"s":"c","g":2,"d":"2016-05-06","v":17},{"s":"c","g":2,"d":"2016-05-10","v":17},{"s":"c","g":2,"d":"2016-05-12","v":14},{"s":"c","g":2,"d":"2016-05-16","v":14},{"s":"c","g":2,"d":"2016-05-18","v":20},{"s":"c","g":2,"d":"2016-05-19","v":25},{"s":"c","g":2,"d":"2016-05-22","v":21},{"s":"c","g":2,"d":"2016-05-24","v":22},{"s":"c","g":2,"d":"2016-05-28","v":22},{"s":"c","g":2,"d":"2016-05-30","v":21},{"s":"c","g":2,"d":"2016-06-03","v":20},{"s":"c","g":2,"d":"2016-06-07","v":20},{"s":"c","g":2,"d":"2016-06-10","v":19},{"s":"c","g":2,"d":"2016-06-13","v":17}
],
"p6": [
{"s":"a","g":1,"d":"2016-01-27","v":70},{"s":"a","g":1,"d":"2016-01-30","v":60},{"s":"a","g":1,"d":"2016-02-03","v":55},{"s":"a","g":1,"d":"2016-02-08","v":62},{"s":"a","g":1,"d":"2016-02-14","v":70},{"s":"a","g":1,"d":"2016-02-20","v":78},{"s":"a","g":1,"d":"2016-02-26","v":82},{"s":"a","g":1,"d":"2016-03-02","v":88},{"s":"a","g":1,"d":"2016-03-07","v":95},{"s":"a","g":1,"d":"2016-03-12","v":100},{"s":"a","g":1,"d":"2016-03-16","v":98},{"s":"a","g":1,"d":"2016-03-20","v":108},{"s":"a","g":1,"d":"2016-03-25","v":110},{"s":"a","g":1,"d":"2016-03-30","v":115},{"s":"a","g":1,"d":"2016-04-03","v":112},{"s":"a","g":1,"d":"2016-04-08","v":118},
{"s":"a","g":2,"d":"2016-05-08","v":150},{"s":"a","g":2,"d":"2016-05-11","v":165},{"s":"a","g":2,"d":"2016-05-15","v":160},{"s":"a","g":2,"d":"2016-05-20","v":150},{"s":"a","g":2,"d":"2016-05-25","v":170},{"s":"a","g":2,"d":"2016-05-30","v":165},{"s":"a","g":2,"d":"2016-06-03","v":155},{"s":"a","g":2,"d":"2016-06-08","v":145},{"s":"a","g":2,"d":"2016-06-13","v":140},{"s":"a","g":2,"d":"2016-06-17","v":125},
{"s":"a","g":3,"d":"2016-07-28","v":158},{"s":"a","g":3,"d":"2016-07-31","v":162},{"s":"a","g":3,"d":"2016-08-03","v":165},{"s":"a","g":3,"d":"2016-08-05","v":155},{"s":"a","g":3,"d":"2016-08-08","v":162},{"s":"a","g":3,"d":"2016-08-11","v":163},{"s":"a","g":3,"d":"2016-08-15","v":160},{"s":"a","g":3,"d":"2016-08-18","v":158},
{"s":"a","g":4,"d":"2016-10-22","v":120},{"s":"a","g":4,"d":"2016-10-24","v":130},{"s":"a","g":4,"d":"2016-10-26","v":115},{"s":"a","g":4,"d":"2016-10-28","v":125},{"s":"a","g":4,"d":"2016-10-30","v":110},{"s":"a","g":4,"d":"2016-11-01","v":125},{"s":"a","g":4,"d":"2016-11-03","v":130},{"s":"a","g":4,"d":"2016-11-05","v":128},{"s":"a","g":4,"d":"2016-11-07","v":135},
{"s":"b","g":1,"d":"2016-01-26","v":60},{"s":"b","g":1,"d":"2016-01-27","v":105},{"s":"b","g":1,"d":"2016-01-28","v":55},{"s":"b","g":1,"d":"2016-02-02","v":52},{"s":"b","g":1,"d":"2016-02-06","v":60},{"s":"b","g":1,"d":"2016-02-11","v":65},{"s":"b","g":1,"d":"2016-02-16","v":68},{"s":"b","g":1,"d":"2016-02-21","v":70},{"s":"b","g":1,"d":"2016-02-26","v":73},{"s":"b","g":1,"d":"2016-03-02","v":75},{"s":"b","g":1,"d":"2016-03-07","v":80},{"s":"b","g":1,"d":"2016-03-12","v":76},{"s":"b","g":1,"d":"2016-03-17","v":78},{"s":"b","g":1,"d":"2016-03-22","v":72},{"s":"b","g":1,"d":"2016-03-28","v":75},{"s":"b","g":1,"d":"2016-04-03","v":70},{"s":"b","g":1,"d":"2016-04-09","v":72},{"s":"b","g":1,"d":"2016-04-15","v":70},{"s":"b","g":1,"d":"2016-04-20","v":78},{"s":"b","g":1,"d":"2016-04-24","v":82},{"s":"b","g":1,"d":"2016-04-25","v":42},{"s":"b","g":1,"d":"2016-04-26","v":125},{"s":"b","g":1,"d":"2016-05-01","v":115},{"s":"b","g":1,"d":"2016-05-06","v":110},{"s":"b","g":1,"d":"2016-05-15","v":100},{"s":"b","g":1,"d":"2016-05-23","v":95},{"s":"b","g":1,"d":"2016-05-29","v":105},{"s":"b","g":1,"d":"2016-06-03","v":110},{"s":"b","g":1,"d":"2016-06-10","v":120},{"s":"b","g":1,"d":"2016-06-17","v":75},{"s":"b","g":1,"d":"2016-06-23","v":80},{"s":"b","g":1,"d":"2016-07-01","v":100},{"s":"b","g":1,"d":"2016-07-10","v":105},{"s":"b","g":1,"d":"2016-07-20","v":110},{"s":"b","g":1,"d":"2016-07-24","v":130},{"s":"b","g":1,"d":"2016-07-29","v":110},{"s":"b","g":1,"d":"2016-08-07","v":115},{"s":"b","g":1,"d":"2016-08-15","v":120},{"s":"b","g":1,"d":"2016-08-18","v":118},{"s":"b","g":1,"d":"2016-08-19","v":60},{"s":"b","g":1,"d":"2016-08-24","v":55},{"s":"b","g":1,"d":"2016-08-28","v":65},{"s":"b","g":1,"d":"2016-09-02","v":58},{"s":"b","g":1,"d":"2016-09-08","v":62},{"s":"b","g":1,"d":"2016-09-14","v":65},{"s":"b","g":1,"d":"2016-09-20","v":70},{"s":"b","g":1,"d":"2016-09-26","v":66},{"s":"b","g":1,"d":"2016-10-02","v":62},{"s":"b","g":1,"d":"2016-10-08","v":64},{"s":"b","g":1,"d":"2016-10-14","v":60},{"s":"b","g":1,"d":"2016-10-20","v":58},{"s":"b","g":1,"d":"2016-10-26","v":55},{"s":"b","g":1,"d":"2016-10-31","v":50},{"s":"b","g":1,"d":"2016-11-06","v":48},
{"s":"c","g":1,"d":"2016-01-27","v":8},{"s":"c","g":1,"d":"2016-01-28","v":30},{"s":"c","g":1,"d":"2016-01-29","v":10},{"s":"c","g":1,"d":"2016-02-02","v":7},{"s":"c","g":1,"d":"2016-02-08","v":6},{"s":"c","g":1,"d":"2016-02-14","v":9},{"s":"c","g":1,"d":"2016-02-20","v":10},
{"s":"c","g":2,"d":"2016-04-25","v":37},{"s":"c","g":2,"d":"2016-04-26","v":12},{"s":"c","g":2,"d":"2016-05-01","v":15},{"s":"c","g":2,"d":"2016-05-06","v":20},{"s":"c","g":2,"d":"2016-05-10","v":18},{"s":"c","g":2,"d":"2016-05-15","v":22},{"s":"c","g":2,"d":"2016-05-20","v":20},
{"s":"c","g":3,"d":"2016-06-26","v":20},{"s":"c","g":3,"d":"2016-07-01","v":22},{"s":"c","g":3,"d":"2016-07-06","v":20},{"s":"c","g":3,"d":"2016-07-12","v":18},{"s":"c","g":3,"d":"2016-07-18","v":25},{"s":"c","g":3,"d":"2016-07-22","v":15},{"s":"c","g":3,"d":"2016-07-28","v":20},{"s":"c","g":3,"d":"2016-08-03","v":22},{"s":"c","g":3,"d":"2016-08-10","v":25},{"s":"c","g":3,"d":"2016-08-17","v":27},
{"s":"c","g":4,"d":"2016-10-05","v":35},{"s":"c","g":4,"d":"2016-10-08","v":45},{"s":"c","g":4,"d":"2016-10-11","v":35},{"s":"c","g":4,"d":"2016-10-14","v":50},{"s":"c","g":4,"d":"2016-10-17","v":35},{"s":"c","g":4,"d":"2016-10-22","v":33},{"s":"c","g":4,"d":"2016-10-27","v":35},{"s":"c","g":4,"d":"2016-11-01","v":36},{"s":"c","g":4,"d":"2016-11-06","v":35}
],
"p7": [
{"s":"a","g":1,"d":"2016-01-21","v":240},{"s":"a","g":1,"d":"2016-01-25","v":100},{"s":"a","g":1,"d":"2016-01-29","v":230},{"s":"a","g":1,"d":"2016-02-01","v":20},{"s":"a","g":1,"d":"2016-02-02","v":200},{"s":"a","g":1,"d":"2016-02-03","v":150},{"s":"a","g":1,"d":"2016-02-04","v":240},{"s":"a","g":1,"d":"2016-02-05","v":20},{"s":"a","g":1,"d":"2016-02-06","v":200},{"s":"a","g":1,"d":"2016-02-09","v":180},{"s":"a","g":1,"d":"2016-02-14","v":220},{"s":"a","g":1,"d":"2016-02-21","v":240},{"s":"a","g":1,"d":"2016-02-26","v":230},{"s":"a","g":1,"d":"2016-03-02","v":250},{"s":"a","g":1,"d":"2016-03-11","v":255},{"s":"a","g":1,"d":"2016-03-21","v":265},{"s":"a","g":1,"d":"2016-04-04","v":245},{"s":"a","g":1,"d":"2016-04-18","v":240},{"s":"a","g":1,"d":"2016-05-02","v":245},{"s":"a","g":1,"d":"2016-05-11","v":260},{"s":"a","g":1,"d":"2016-05-21","v":275},{"s":"a","g":1,"d":"2016-05-30","v":290},{"s":"a","g":1,"d":"2016-06-05","v":300},{"s":"a","g":1,"d":"2016-06-10","v":305},{"s":"a","g":1,"d":"2016-06-11","v":710},{"s":"a","g":1,"d":"2016-06-12","v":300},{"s":"a","g":1,"d":"2016-06-22","v":300},{"s":"a","g":1,"d":"2016-06-27","v":290},{"s":"a","g":1,"d":"2016-07-03","v":270},{"s":"a","g":1,"d":"2016-07-11","v":250},{"s":"a","g":1,"d":"2016-07-20","v":230},{"s":"a","g":1,"d":"2016-07-30","v":210},{"s":"a","g":1,"d":"2016-08-08","v":195},{"s":"a","g":1,"d":"2016-08-17","v":180},{"s":"a","g":1,"d":"2016-08-27","v":165},{"s":"a","g":1,"d":"2016-09-05","v":150},{"s":"a","g":1,"d":"2016-09-14","v":140},{"s":"a","g":1,"d":"2016-09-24","v":140},{"s":"a","g":1,"d":"2016-10-03","v":145},{"s":"a","g":1,"d":"2016-10-12","v":150},{"s":"a","g":1,"d":"2016-10-22","v":160},{"s":"a","g":1,"d":"2016-11-01","v":155},{"s":"a","g":1,"d":"2016-11-09","v":165},{"s":"a","g":1,"d":"2016-11-14","v":170},
{"s":"b","g":1,"d":"2016-01-21","v":150},{"s":"b","g":1,"d":"2016-01-25","v":240},{"s":"b","g":1,"d":"2016-01-29","v":230},{"s":"b","g":1,"d":"2016-02-03","v":200},{"s":"b","g":1,"d":"2016-02-07","v":210},{"s":"b","g":1,"d":"2016-02-14","v":230},{"s":"b","g":1,"d":"2016-02-21","v":245},{"s":"b","g":1,"d":"2016-03-02","v":240},{"s":"b","g":1,"d":"2016-03-11","v":250},{"s":"b","g":1,"d":"2016-03-21","v":255},{"s":"b","g":1,"d":"2016-04-04","v":240},{"s":"b","g":1,"d":"2016-04-18","v":235},{"s":"b","g":1,"d":"2016-04-27","v":240},{"s":"b","g":1,"d":"2016-05-06","v":255},{"s":"b","g":1,"d":"2016-05-15","v":270},{"s":"b","g":1,"d":"2016-05-25","v":285},{"s":"b","g":1,"d":"2016-06-03","v":300},{"s":"b","g":1,"d":"2016-06-12","v":310},{"s":"b","g":1,"d":"2016-06-22","v":305},
{"s":"b","g":2,"d":"2016-10-10","v":150},{"s":"b","g":2,"d":"2016-10-13","v":200},{"s":"b","g":2,"d":"2016-10-17","v":260},{"s":"b","g":2,"d":"2016-10-20","v":280},{"s":"b","g":2,"d":"2016-10-26","v":260},{"s":"b","g":2,"d":"2016-11-02","v":250},{"s":"b","g":2,"d":"2016-11-09","v":265},{"s":"b","g":2,"d":"2016-11-14","v":260},
{"s":"c","g":1,"d":"2016-01-21","v":20},{"s":"c","g":1,"d":"2016-01-29","v":25},{"s":"c","g":1,"d":"2016-02-05","v":22},{"s":"c","g":1,"d":"2016-02-12","v":28},{"s":"c","g":1,"d":"2016-02-19","v":32},{"s":"c","g":1,"d":"2016-02-24","v":40},
{"s":"c","g":2,"d":"2016-04-27","v":240},{"s":"c","g":2,"d":"2016-04-29","v":50},{"s":"c","g":2,"d":"2016-05-06","v":45},{"s":"c","g":2,"d":"2016-05-15","v":48},{"s":"c","g":2,"d":"2016-05-25","v":52},{"s":"c","g":2,"d":"2016-06-03","v":50},{"s":"c","g":2,"d":"2016-06-09","v":48},{"s":"c","g":2,"d":"2016-06-10","v":130},{"s":"c","g":2,"d":"2016-06-11","v":45},{"s":"c","g":2,"d":"2016-06-22","v":45},{"s":"c","g":2,"d":"2016-07-01","v":42},{"s":"c","g":2,"d":"2016-07-11","v":40},{"s":"c","g":2,"d":"2016-07-20","v":38},{"s":"c","g":2,"d":"2016-07-30","v":42},{"s":"c","g":2,"d":"2016-08-01","v":35},
{"s":"c","g":3,"d":"2016-09-18","v":80},{"s":"c","g":3,"d":"2016-09-24","v":85},{"s":"c","g":3,"d":"2016-10-01","v":75},{"s":"c","g":3,"d":"2016-10-08","v":90},{"s":"c","g":3,"d":"2016-10-17","v":80},{"s":"c","g":3,"d":"2016-10-26","v":85},{"s":"c","g":3,"d":"2016-11-04","v":80},{"s":"c","g":3,"d":"2016-11-10","v":90},{"s":"c","g":3,"d":"2016-11-16","v":85}
],
"p8": [
{"s":"a","g":1,"d":"2016-03-05","v":35},{"s":"a","g":1,"d":"2016-03-07","v":150},{"s":"a","g":1,"d":"2016-03-11","v":170},{"s":"a","g":1,"d":"2016-03-17","v":180},{"s":"a","g":1,"d":"2016-03-24","v":190},{"s":"a","g":1,"d":"2016-03-31","v":195},{"s":"a","g":1,"d":"2016-04-06","v":200},{"s":"a","g":1,"d":"2016-04-08","v":198},{"s":"a","g":1,"d":"2016-04-09","v":140},{"s":"a","g":1,"d":"2016-04-10","v":200},{"s":"a","g":1,"d":"2016-04-19","v":203},{"s":"a","g":1,"d":"2016-04-28","v":195},{"s":"a","g":1,"d":"2016-05-06","v":192},{"s":"a","g":1,"d":"2016-05-11","v":195},{"s":"a","g":1,"d":"2016-05-12","v":150},{"s":"a","g":1,"d":"2016-05-13","v":195},{"s":"a","g":1,"d":"2016-05-24","v":200},{"s":"a","g":1,"d":"2016-06-01","v":210},{"s":"a","g":1,"d":"2016-06-11","v":205},{"s":"a","g":1,"d":"2016-06-12","v":145},{"s":"a","g":1,"d":"2016-06-13","v":210},{"s":"a","g":1,"d":"2016-06-17","v":215},{"s":"a","g":1,"d":"2016-06-20","v":230},{"s":"a","g":1,"d":"2016-06-25","v":250},{"s":"a","g":1,"d":"2016-06-29","v":245},{"s":"a","g":1,"d":"2016-07-04","v":235},{"s":"a","g":1,"d":"2016-07-08","v":225},{"s":"a","g":1,"d":"2016-07-15","v":218},{"s":"a","g":1,"d":"2016-07-23","v":210},{"s":"a","g":1,"d":"2016-07-28","v":215},{"s":"a","g":1,"d":"2016-08-05","v":205},{"s":"a","g":1,"d":"2016-08-10","v":210},{"s":"a","g":1,"d":"2016-08-18","v":200},{"s":"a","g":1,"d":"2016-08-27","v":195},{"s":"a","g":1,"d":"2016-08-31","v":185},{"s":"a","g":1,"d":"2016-09-03","v":150},{"s":"a","g":1,"d":"2016-09-04","v":120},{"s":"a","g":1,"d":"2016-09-09","v":125},{"s":"a","g":1,"d":"2016-09-13","v":140},{"s":"a","g":1,"d":"2016-09-22","v":145},{"s":"a","g":1,"d":"2016-09-26","v":170},{"s":"a","g":1,"d":"2016-09-30","v":175},{"s":"a","g":1,"d":"2016-10-08","v":170},{"s":"a","g":1,"d":"2016-10-09","v":130},{"s":"a","g":1,"d":"2016-10-11","v":175},{"s":"a","g":1,"d":"2016-10-18","v":190},{"s":"a","g":1,"d":"2016-10-22","v":200},{"s":"a","g":1,"d":"2016-10-31","v":210},{"s":"a","g":1,"d":"2016-11-09","v":225},{"s":"a","g":1,"d":"2016-11-17","v":245},
{"s":"b","g":1,"d":"2016-01-28","v":95},{"s":"b","g":1,"d":"2016-01-29","v":70},{"s":"b","g":1,"d":"2016-01-31","v":90},{"s":"b","g":1,"d":"2016-02-03","v":60},{"s":"b","g":1,"d":"2016-02-05","v":75},{"s":"b","g":1,"d":"2016-02-09","v":45},{"s":"b","g":1,"d":"2016-02-18","v":40},{"s":"b","g":1,"d":"2016-02-27","v":35},{"s":"b","g":1,"d":"2016-03-07","v":38},{"s":"b","g":1,"d":"2016-03-15","v":40},{"s":"b","g":1,"d":"2016-03-28","v":45},{"s":"b","g":1,"d":"2016-04-10","v":52},{"s":"b","g":1,"d":"2016-04-23","v":58},{"s":"b","g":1,"d":"2016-05-06","v":65},{"s":"b","g":1,"d":"2016-05-19","v":75},{"s":"b","g":1,"d":"2016-05-28","v":80},{"s":"b","g":1,"d":"2016-06-05","v":90},{"s":"b","g":1,"d":"2016-06-10","v":95},{"s":"b","g":1,"d":"2016-06-13","v":100},
{"s":"b","g":2,"d":"2016-08-24","v":75},{"s":"b","g":2,"d":"2016-08-31","v":73},{"s":"b","g":2,"d":"2016-09-06","v":76},{"s":"b","g":2,"d":"2016-09-13","v":70},{"s":"b","g":2,"d":"2016-09-20","v":75},{"s":"b","g":2,"d":"2016-09-26","v":65},{"s":"b","g":2,"d":"2016-09-30","v":60},{"s":"b","g":2,"d":"2016-10-05","v":45},{"s":"b","g":2,"d":"2016-10-06","v":40},{"s":"b","g":2,"d":"2016-10-08","v":105},{"s":"b","g":2,"d":"2016-10-10","v":55},{"s":"b","g":2,"d":"2016-10-16","v":55},{"s":"b","g":2,"d":"2016-10-22","v":62},{"s":"b","g":2,"d":"2016-10-31","v":65},{"s":"b","g":2,"d":"2016-11-09","v":63},{"s":"b","g":2,"d":"2016-11-17","v":63},
{"s":"c","g":1,"d":"2016-01-28","v":10},{"s":"c","g":1,"d":"2016-02-05","v":12},{"s":"c","g":1,"d":"2016-02-18","v":10},{"s":"c","g":1,"d":"2016-03-02","v":15},{"s":"c","g":1,"d":"2016-03-15","v":18},{"s":"c","g":1,"d":"2016-03-28","v":20},{"s":"c","g":1,"d":"2016-04-10","v":25},{"s":"c","g":1,"d":"2016-04-19","v":28},{"s":"c","g":1,"d":"2016-04-25","v":30},
{"s":"c","g":2,"d":"2016-06-12","v":22},{"s":"c","g":2,"d":"2016-06-18","v":20},{"s":"c","g":2,"d":"2016-06-25","v":15},{"s":"c","g":2,"d":"2016-06-30","v":22},{"s":"c","g":2,"d":"2016-07-06","v":38},{"s":"c","g":2,"d":"2016-07-10","v":35},{"s":"c","g":2,"d":"2016-07-16","v":30},
{"s":"c","g":3,"d":"2016-08-24","v":57},{"s":"c","g":3,"d":"2016-08-31","v":55},{"s":"c","g":3,"d":"2016-09-04","v":55},{"s":"c","g":3,"d":"2016-09-06","v":15},{"s":"c","g":3,"d":"2016-09-13","v":18},{"s":"c","g":3,"d":"2016-09-17","v":12},{"s":"c","g":3,"d":"2016-09-22","v":25},
{"s":"c","g":4,"d":"2016-10-13","v":50},{"s":"c","g":4,"d":"2016-10-18","v":45},{"s":"c","g":4,"d":"2016-10-22","v":48},{"s":"c","g":4,"d":"2016-10-28","v":40},{"s":"c","g":4,"d":"2016-11-03","v":30},{"s":"c","g":4,"d":"2016-11-07","v":45},{"s":"c","g":4,"d":"2016-11-11","v":48}
]
},
"spacing": 2,
"resolve": {"scale": {"x": "independent", "y": "independent", "color": "independent"}, "legend": {"color": "independent"}},
"hconcat": [
{"spacing": 37,
 "resolve": {"scale": {"x": "independent", "y": "independent", "color": "independent"}, "legend": {"color": "independent"}},
 "hconcat": [
 {"spacing": 40, "resolve": {"scale": {"x": "independent", "y": "independent", "color": "independent"}, "legend": {"color": "independent"}},
  "vconcat": [
  {"width": 431, "height": 407, "data": {"name": "p1"}, "mark": {"type": "line", "strokeWidth": 1.6, "clip": true},
   "encoding": {
    "x": {"field": "d", "type": "temporal", "scale": {"type": "utc", "domain": [1452513600000, 1479729600000]}, "axis": {"values": [1454284800000,1456790400000,1459468800000,1462060800000,1464739200000,1467331200000,1470009600000,1472688000000,1475280000000,1477958400000], "labelExpr": "utcmonth(datum.value)==10?'':utcFormat(datum.value,'%b')", "labelOffset": 20, "title": "2016"}},
    "y": {"field": "v", "type": "quantitative", "scale": {"domain": [5.6, 6.4], "zero": false, "nice": false}, "axis": {"values": [5.6,5.7,5.8,5.9,6.0,6.1,6.2,6.3,6.4], "format": ".1f", "title": null}},
    "color": {"field": "s", "type": "nominal", "scale": {"domain": ["a","b","c"], "range": ["black","black","black"]}, "legend": {"title": null, "labelExpr": "datum.label=='a'?'PN_3d34':datum.label=='b'?'PMR_3d34':'PER_3E34'"}},
    "detail": {"field": "g", "type": "nominal"}}},
  {"width": 431, "height": 413, "data": {"name": "p5"}, "mark": {"type": "line", "strokeWidth": 1.6, "clip": true},
   "encoding": {
    "x": {"field": "d", "type": "temporal", "scale": {"type": "utc", "domain": [1452513600000, 1479729600000]}, "axis": {"values": [1454284800000,1456790400000,1459468800000,1462060800000,1464739200000,1467331200000,1470009600000,1472688000000,1475280000000,1477958400000], "labelExpr": "utcmonth(datum.value)==10?'':utcFormat(datum.value,'%b')", "labelOffset": 20, "title": "2016"}},
    "y": {"field": "v", "type": "quantitative", "scale": {"domain": [0, 160], "nice": false}, "axis": {"values": [0,20,40,60,80,100,120,140,160], "format": "d", "title": null}},
    "color": {"field": "s", "type": "nominal", "scale": {"domain": ["a","b","c"], "range": ["black","black","black"]}, "legend": {"title": null, "offset": 3, "labelExpr": "datum.label=='a'?'VN_3d34':datum.label=='b'?'VMR_3d34':'VER_3E34'"}},
    "detail": {"field": "g", "type": "nominal"}}}
  ]},
 {"spacing": 40, "resolve": {"scale": {"x": "independent", "y": "independent", "color": "independent"}, "legend": {"color": "independent"}},
  "vconcat": [
  {"width": 414, "height": 407, "data": {"name": "p2"}, "mark": {"type": "line", "strokeWidth": 1.6, "clip": true},
   "encoding": {
    "x": {"field": "d", "type": "temporal", "scale": {"type": "utc", "domain": [1452513600000, 1479729600000]}, "axis": {"values": [1454284800000,1456790400000,1459468800000,1462060800000,1464739200000,1467331200000,1470009600000,1472688000000,1475280000000,1477958400000], "labelExpr": "utcmonth(datum.value)==10?'':utcFormat(datum.value,'%b')", "labelOffset": 20, "title": "2016"}},
    "y": {"field": "v", "type": "quantitative", "scale": {"domain": [5.4, 6.3], "zero": false, "nice": false}, "axis": {"values": [5.4,5.5,5.6,5.7,5.8,5.9,6.0,6.1,6.2,6.3], "format": ".1f", "title": null}},
    "color": {"field": "s", "type": "nominal", "scale": {"domain": ["a","b","c"], "range": ["black","black","black"]}, "legend": {"title": null, "labelExpr": "datum.label=='a'?'PN_2d33':datum.label=='b'?'PMR_2d33':'PER_2E33'"}},
    "detail": {"field": "g", "type": "nominal"}}},
  {"width": 414, "height": 413, "data": {"name": "p6"}, "mark": {"type": "line", "strokeWidth": 1.6, "clip": true},
   "encoding": {
    "x": {"field": "d", "type": "temporal", "scale": {"type": "utc", "domain": [1452513600000, 1479729600000]}, "axis": {"values": [1454284800000,1456790400000,1459468800000,1462060800000,1464739200000,1467331200000,1470009600000,1472688000000,1475280000000,1477958400000], "labelExpr": "utcmonth(datum.value)==10?'':utcFormat(datum.value,'%b')", "labelOffset": 20, "title": "2016"}},
    "y": {"field": "v", "type": "quantitative", "scale": {"domain": [0, 200], "nice": false}, "axis": {"values": [0,25,50,75,100,125,150,175,200], "format": "d", "title": null}},
    "color": {"field": "s", "type": "nominal", "scale": {"domain": ["a","b","c"], "range": ["black","black","black"]}, "legend": {"title": null, "offset": 3, "labelExpr": "datum.label=='a'?'VN_2d33':datum.label=='b'?'VMR_2d33':'VER_2E33'"}},
    "detail": {"field": "g", "type": "nominal"}}}
  ]},
 {"spacing": 40, "resolve": {"scale": {"x": "independent", "y": "independent", "color": "independent"}, "legend": {"color": "independent"}},
  "vconcat": [
  {"width": 416, "height": 407, "data": {"name": "p3"}, "mark": {"type": "line", "strokeWidth": 1.6, "clip": true},
   "encoding": {
    "x": {"field": "d", "type": "temporal", "scale": {"type": "utc", "domain": [1452513600000, 1479729600000]}, "axis": {"values": [1454284800000,1456790400000,1459468800000,1462060800000,1464739200000,1467331200000,1470009600000,1472688000000,1475280000000,1477958400000], "labelExpr": "utcmonth(datum.value)==10?'':utcFormat(datum.value,'%b')", "labelOffset": 20, "title": "2016"}},
    "y": {"field": "v", "type": "quantitative", "scale": {"domain": [5.2, 6.2], "zero": false, "nice": false}, "axis": {"values": [5.2,5.4,5.6,5.8,6.0,6.2], "format": ".1f", "title": null}},
    "color": {"field": "s", "type": "nominal", "scale": {"domain": ["a","b","c"], "range": ["black","black","black"]}, "legend": {"title": null, "labelExpr": "datum.label=='a'?'PN_2d16':datum.label=='b'?'PMR_2d16':'PER_2E16'"}},
    "detail": {"field": "g", "type": "nominal"}}},
  {"width": 416, "height": 413, "data": {"name": "p7"}, "mark": {"type": "line", "strokeWidth": 1.6, "clip": true},
   "encoding": {
    "x": {"field": "d", "type": "temporal", "scale": {"type": "utc", "domain": [1452513600000, 1479729600000]}, "axis": {"values": [1454284800000,1456790400000,1459468800000,1462060800000,1464739200000,1467331200000,1470009600000,1472688000000,1475280000000,1477958400000], "labelExpr": "utcmonth(datum.value)==10?'':utcFormat(datum.value,'%b')", "labelOffset": 20, "title": "2016"}},
    "y": {"field": "v", "type": "quantitative", "scale": {"domain": [0, 800], "nice": false}, "axis": {"values": [0,100,200,300,400,500,600,700,800], "format": "d", "title": null}},
    "color": {"field": "s", "type": "nominal", "scale": {"domain": ["a","b","c"], "range": ["black","black","black"]}, "legend": {"title": null, "offset": 3, "labelExpr": "datum.label=='a'?'VN_2d16':datum.label=='b'?'VMR_2d16':'VER_2E16'"}},
    "detail": {"field": "g", "type": "nominal"}}}
  ]}
 ]},
{"spacing": 40, "resolve": {"scale": {"x": "independent", "y": "independent", "color": "independent"}, "legend": {"color": "independent"}},
 "vconcat": [
 {"width": 449, "height": 407, "data": {"name": "p4"}, "mark": {"type": "line", "strokeWidth": 1.6, "clip": true},
  "encoding": {
   "x": {"field": "d", "type": "temporal", "scale": {"type": "utc", "domain": [1452513600000, 1479729600000]}, "axis": {"values": [1454284800000,1456790400000,1459468800000,1462060800000,1464739200000,1467331200000,1470009600000,1472688000000,1475280000000,1477958400000], "labelExpr": "utcmonth(datum.value)==10?'':utcFormat(datum.value,'%b')", "labelOffset": 21, "title": "2016"}},
   "y": {"field": "v", "type": "quantitative", "scale": {"domain": [4.8, 6.0], "zero": false, "nice": false}, "axis": {"values": [4.8,5.0,5.2,5.4,5.6,5.8,6.0], "format": ".1f", "title": null}},
   "color": {"field": "s", "type": "nominal", "scale": {"domain": ["a","b","c"], "range": ["black","black","black"]}, "legend": {"title": null, "labelExpr": "datum.label=='a'?'PN_34':datum.label=='b'?'PMR_34':'PER_34'"}},
   "detail": {"field": "g", "type": "nominal"}}},
 {"width": 449, "height": 413, "data": {"name": "p8"}, "mark": {"type": "line", "strokeWidth": 1.6, "clip": true},
  "encoding": {
   "x": {"field": "d", "type": "temporal", "scale": {"type": "utc", "domain": [1452513600000, 1479729600000]}, "axis": {"values": [1454284800000,1456790400000,1459468800000,1462060800000,1464739200000,1467331200000,1470009600000,1472688000000,1475280000000,1477958400000], "labelExpr": "utcmonth(datum.value)==10?'':utcFormat(datum.value,'%b')", "labelOffset": 21, "title": "2016"}},
   "y": {"field": "v", "type": "quantitative", "scale": {"domain": [0, 250], "nice": false}, "axis": {"values": [0,50,100,150,200,250], "format": "d", "title": null}},
   "color": {"field": "s", "type": "nominal", "scale": {"domain": ["a","b","c"], "range": ["black","black","black"]}, "legend": {"title": null, "offset": 3, "labelExpr": "datum.label=='a'?'VN_34':datum.label=='b'?'VMR_34':'VER_34'"}},
   "detail": {"field": "g", "type": "nominal"}}}
 ]}
]
}
